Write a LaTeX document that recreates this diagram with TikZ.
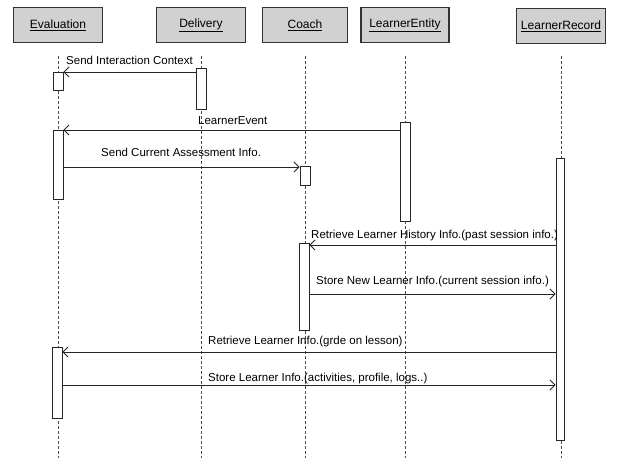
\documentclass[tikz,border=0pt]{standalone}
\usepackage{fontspec}
\setmainfont{Liberation Sans}
\usetikzlibrary{arrows.meta}
\begin{document}
\begin{tikzpicture}[x=1pt,y=-1pt,
  obj/.style={draw=black!80, line width=1.1pt, fill=black!18, minimum width=89pt,
    minimum height=35pt, inner sep=0pt, font=\fontsize{12}{14}\selectfont},
  life/.style={draw=black!70, line width=0.7pt, dash pattern=on 3pt off 2pt},
  act/.style={draw=black!85, line width=0.8pt, fill=white, minimum width=10pt, inner sep=0pt},
  msg/.style={draw=black!85, line width=0.9pt, -{Straight Barb[length=5pt,width=10pt]}},
  lbl/.style={anchor=base west, inner sep=0pt, font=\fontsize{11.5}{13}\selectfont}]

\useasboundingbox (0,0) rectangle (617,458);

% object headers
\node[obj] (ev) at (58,25) {\underline{Evaluation}};
\node[obj] (dl) at (201,25) {\underline{Delivery}};
\node[obj, minimum width=85pt] (co) at (305,25) {\underline{Coach}};
\node[obj, minimum width=88pt] (le) at (405,25) {\underline{LearnerEntity}};
\node[obj] (lr) at (561,26) {\underline{LearnerRecord}};

% lifelines
\foreach \o in {ev,dl,co,le,lr}
  \draw[life] (\o.south |- 0,56) -- (\o.south |- 0,458);

% activation bars
\node[act, minimum height=18pt] (e1) at (58,81) {};
\node[act, minimum height=41pt] (d1) at (201,88.5) {};
\node[act, minimum height=69pt] (e2) at (58,164.5) {};
\node[act, minimum height=19pt] (c1) at (305,175.5) {};
\node[act, minimum height=99pt] (le1) at (405,171.5) {};
\node[act, minimum height=282pt, minimum width=8pt] (lr1) at (560,299) {};
\node[act, minimum height=87pt] (c2) at (304,286.5) {};
\node[act, minimum height=71pt] (e3) at (57,382.5) {};

% messages
\draw[msg] (d1.west |- 0,72) -- (e1.east |- 0,72);
\draw[msg] (le1.west |- 0,130) -- (e2.east |- 0,130);
\draw[msg] (e2.east |- 0,167) -- (c1.west |- 0,167);
\draw[msg] (lr1.west |- 0,245) -- (c2.east |- 0,245);
\draw[msg] (c2.east |- 0,294) -- (lr1.west |- 0,294);
\draw[msg] (lr1.west |- 0,352) -- (e3.east |- 0,352);
\draw[msg] (e3.east |- 0,385) -- (lr1.west |- 0,385);

% message labels
\node[lbl] at (66,64) {Send Interaction Context};
\node[lbl] at (198,124) {LearnerEvent};
\node[lbl] at (101,156) {Send Current Assessment Info.};
\node[lbl] at (311,238) {Retrieve Learner History Info.(past session info.)};
\node[lbl] at (316,284) {Store New Learner Info.(current session info.)};
\node[lbl] at (208,344) {Retrieve Learner Info.(grde on lesson)};
\node[lbl] at (208,381) {Store Learner Info.(activities, profile, logs..)};
\end{tikzpicture}
\end{document}
